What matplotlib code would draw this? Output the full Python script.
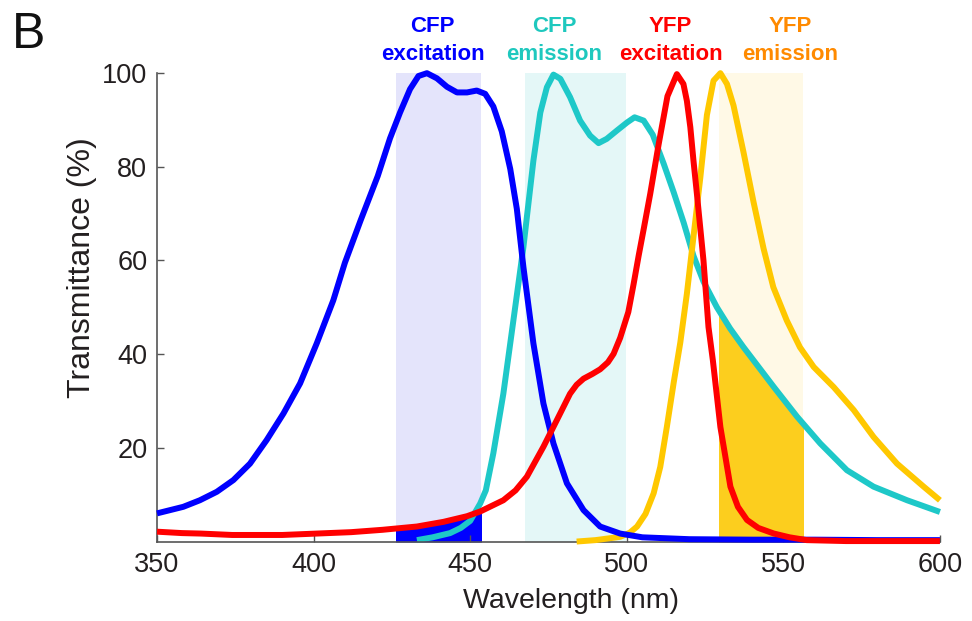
import numpy as np
import matplotlib
matplotlib.use("Agg")
import matplotlib.pyplot as plt
from matplotlib.patches import Rectangle

plt.rcParams['font.family'] = ['Liberation Sans', 'DejaVu Sans']

# spectra (wavelength nm, transmittance %)
cfp_ex_nm = [350, 354.2, 358.4, 363.7, 369.1, 374.4, 379.7, 385, 390.4, 395.7, 401, 406.3,
             410, 415, 420.5, 424.4, 427.6, 430.8, 433.5, 436.2, 439.4, 442.6, 445.8, 449,
             452.1, 454.8, 457.4, 460.1, 462.8, 464.9, 467, 470.2, 473.4, 476.6, 480.9,
             486.2, 491.5, 497.9, 505, 520, 540, 560, 580, 600]
cfp_ex_t = [6.1, 6.8, 7.5, 8.9, 10.7, 13.2, 16.7, 21.7, 27.4, 33.8, 42.3, 51.5,
            59.5, 68.5, 78.0, 86.0, 91.5, 96.5, 99.3, 99.9, 98.8, 97.0, 95.8, 95.8,
            96.2, 95.5, 92.8, 87.5, 79.5, 71.0, 58.6, 42.3, 29.5, 21.0, 12.5,
            6.8, 3.3, 1.8, 1.0, 0.6, 0.5, 0.5, 0.4, 0.4]

cfp_em_nm = [433, 438, 443.6, 447, 450, 453.2, 455, 457.4, 460.6, 463.8, 467, 468.1, 470.2,
             472.4, 474.5, 476.6, 478.8, 481.9, 485.1, 488.3, 491, 493.6, 496.9, 500.1,
             502.5, 505.4, 508.3, 511.8, 515, 518.2, 521.3, 524.5, 528.8, 533, 537.3,
             540.5, 547, 554.4, 561.8, 570.3, 578.8, 589.5, 600]
cfp_em_t = [0.4, 1.0, 1.9, 3.0, 4.5, 8.2, 11.0, 18.9, 31.6, 47.2, 62.8, 69.2, 81.3,
            91.5, 96.9, 99.6, 98.7, 94.8, 89.8, 86.6, 85.0, 85.9, 87.7, 89.4,
            90.5, 89.8, 86.8, 80.6, 74.5, 68.0, 61.0, 55.5, 50.0, 45.5, 41.5,
            38.7, 33.0, 26.7, 21.0, 15.3, 11.8, 8.9, 6.4]

yfp_ex_nm = [350, 358, 364, 374, 380, 390, 401, 412, 422, 433, 441.5, 449, 453.2, 460.6,
             464.5, 468.1, 473.4, 477.7, 481.9, 484, 486.2, 489, 491.5, 494, 495.8, 497.9,
             500.5, 502.2, 503.8, 505.5, 507.5, 510.2, 513, 516, 518.1, 519.2, 520.3,
             521.3, 522.4, 524.5, 526.1, 527.5, 529.9, 533.1, 535.5, 538.4, 542, 547,
             552, 557.5, 570, 585, 600]
yfp_ex_t = [2.2, 1.9, 1.8, 1.5, 1.5, 1.5, 1.8, 2.1, 2.6, 3.3, 4.3, 5.5, 6.5, 8.9,
            11.0, 13.9, 20.3, 26.0, 31.6, 33.5, 34.8, 35.8, 36.8, 38.3, 40.1, 43.5,
            49.0, 55.0, 61.0, 67.0, 74.2, 84.8, 95.0, 99.7, 97.6, 94.0, 88.4,
            81.3, 74.2, 60.0, 45.8, 38.7, 24.5, 11.8, 7.5, 4.7, 3.0, 1.8,
            1.0, 0.4, 0.2, 0.2, 0.2]

yfp_em_nm = [484, 490, 497.9, 501, 503.3, 506, 508.6, 510.7, 512.8, 515, 517.1, 519.2,
             521.3, 523.5, 525.6, 527.7, 529.9, 532, 534.1, 537.3, 540.5, 543.7, 546.8,
             551.1, 555.3, 559.7, 566.1, 572.5, 578.8, 586.3, 594.8, 600]
yfp_em_t = [0.1, 0.4, 1.1, 2.0, 3.3, 6.0, 10.4, 16.0, 24.5, 34.0, 42.5, 52.9,
            65.0, 77.7, 91.0, 98.3, 99.9, 97.6, 93.0, 83.0, 72.4, 62.5, 54.3,
            47.2, 41.5, 37.3, 33.0, 28.1, 22.4, 16.7, 11.8, 8.9]

# filter bands (nm)
cfp_ex_band = (426.4, 453.5)
cfp_em_band = (467.6, 499.8)
yfp_em_band = (529.6, 556.4)

label_top = ["CFP", "CFP", "YFP", "YFP"]
label_bottom = ["excitation", "emission", "excitation", "emission"]
label_x = [438.0, 476.8, 514.0, 552.2]
label_colors = ['#0000FF', '#1EC8BE', '#FF0000', '#FF8A00']

fig = plt.figure(figsize=(9.72, 6.21), dpi=100)
ax = fig.add_axes([0.1615, 0.1272, 0.8055, 0.7557])

# bands
for band, col in [(cfp_ex_band, '#E4E4FB'), (cfp_em_band, '#E4F7F7'), (yfp_em_band, '#FFF9E6')]:
    ax.axvspan(band[0], band[1], color=col, lw=0, zorder=0)

# bleed-through fills, clipped to the filter band
f1 = ax.fill_between(yfp_ex_nm, 0, yfp_ex_t, color='#0000FF', lw=0, zorder=1)
r1 = Rectangle((cfp_ex_band[0], 0), cfp_ex_band[1] - cfp_ex_band[0], 100, transform=ax.transData)
f1.set_clip_path(r1)
f2 = ax.fill_between(cfp_em_nm, 0, cfp_em_t, color='#FCCE1E', lw=0, zorder=1)
r2 = Rectangle((yfp_em_band[0], 0), yfp_em_band[1] - yfp_em_band[0], 100, transform=ax.transData)
f2.set_clip_path(r2)

lw = 4.3
style = dict(lw=lw, clip_on=False, solid_joinstyle='round', solid_capstyle='butt')
ax.plot(cfp_em_nm, cfp_em_t, color='#1EC8C8', zorder=2, **style)
ax.plot(yfp_em_nm, yfp_em_t, color='#FFC800', zorder=3, **style)
ax.plot(cfp_ex_nm, cfp_ex_t, color='#0000FF', zorder=4, **style)
ax.plot(yfp_ex_nm, yfp_ex_t, color='#FF0000', zorder=5, **style)

ax.set_xlim(350, 600)
ax.set_ylim(0, 100)
ax.set_xticks([350, 400, 450, 500, 550, 600])
ax.set_yticks([20, 40, 60, 80, 100])
ax.tick_params(direction='in', length=5, width=1, colors='#555555', labelsize=19.5,
               labelcolor='#231F20', pad=7)
for s in ['top', 'right']:
    ax.spines[s].set_visible(False)
for s in ['left', 'bottom']:
    ax.spines[s].set_color('#555555')
    ax.spines[s].set_linewidth(1.2)

ax.set_xlabel("Wavelength (nm)", fontsize=20.5, color='#231F20')
ax.xaxis.set_label_coords(0.529, -0.098)
ax.set_ylabel("Transmittance (%)", fontsize=23, color='#231F20')
ax.yaxis.set_label_coords(-0.077, 0.584)

for top, bottom, x, col in zip(label_top, label_bottom, label_x, label_colors):
    ax.text(x, 108.7, top, ha='center', va='baseline', fontsize=16, fontweight='bold',
            color=col, clip_on=False)
    ax.text(x, 102.8, bottom, ha='center', va='baseline', fontsize=16, fontweight='bold',
            color=col, clip_on=False)

fig.text(0.012, 0.944, "B", fontsize=36, color='#111111', va='center', ha='left')

fig.savefig("out.png", dpi=100)
